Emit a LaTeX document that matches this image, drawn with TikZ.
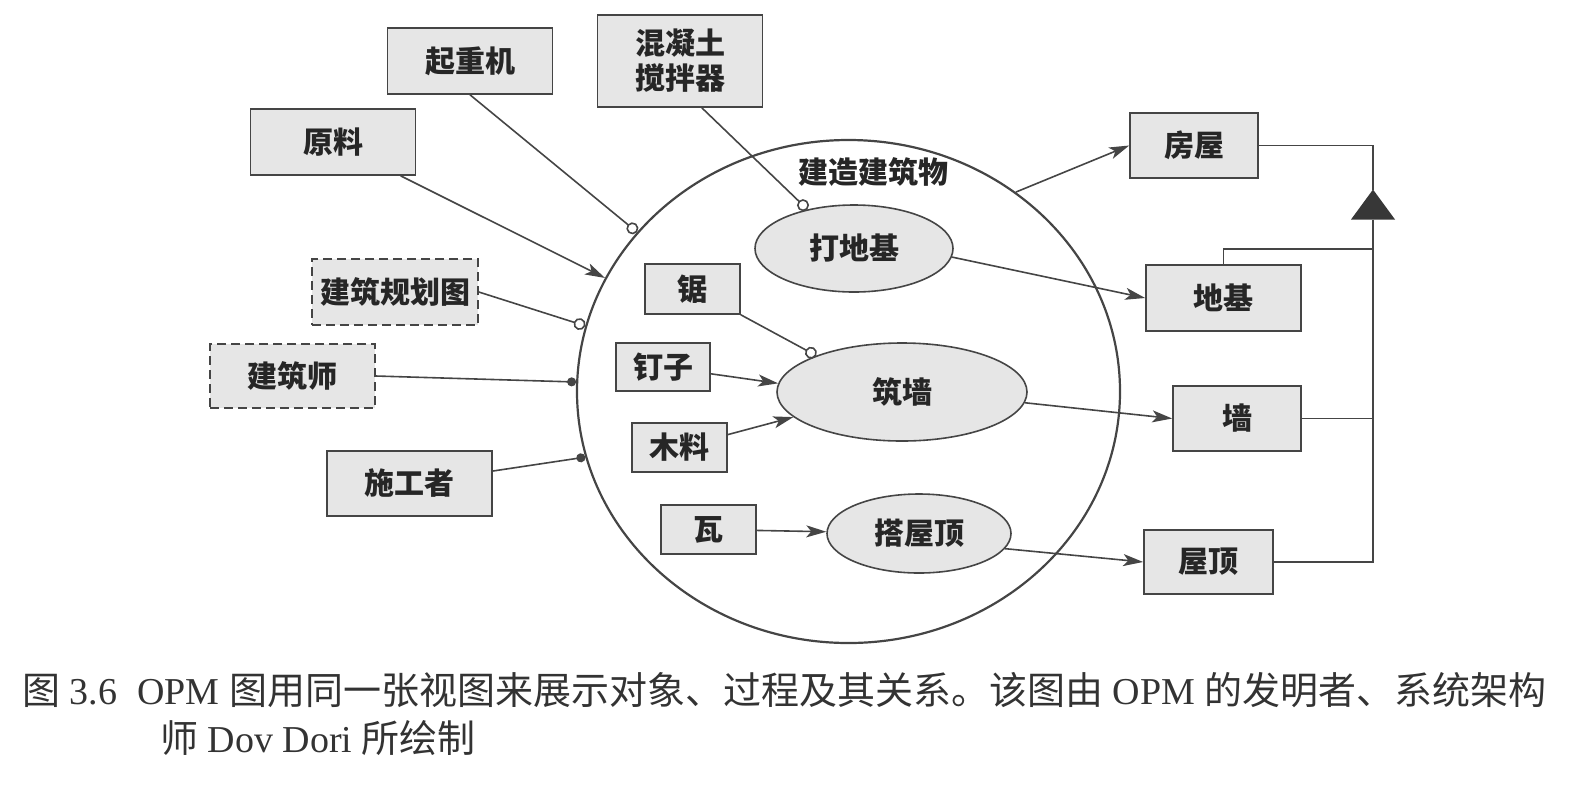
\documentclass[tikz,border=0pt]{standalone}
\usepackage{fontspec}
\setmainfont{Liberation Serif}
\newfontfamily\zh{Noto Sans CJK SC}
\usetikzlibrary{shapes.geometric,arrows.meta}
\definecolor{boxgrey}{HTML}{E6E6E6}
\definecolor{inkgrey}{HTML}{454545}

\begin{document}
\begin{tikzpicture}[x=1pt,y=-1pt]
                      \tikzstyle{every node}+=[inner sep=0pt]
                      \tikzstyle{thing}=[draw=inkgrey,fill=boxgrey,line width=1.6pt,text=black!85,font=\zh\bfseries\fontsize{30}{35}\selectfont]
                      \tikzstyle{envthing}=[thing,dash pattern=on 9pt off 5pt]
                      \tikzstyle{proc}=[thing,ellipse]
                      \tikzstyle{link}=[draw=inkgrey,line width=1.6pt]
                      \tikzstyle{yield}=[link,-{Stealth[length=20pt,width=12pt,inset=5pt]}]
                      \tikzstyle{instr}=[link,-{Circle[length=12pt,fill=white]}]
                      \tikzstyle{agent}=[link,-{Circle[length=9pt]}]
                      \useasboundingbox (0,0) rectangle (1584,788);
                      \node [ellipse,draw=inkgrey,line width=2.2pt,minimum width=543pt,minimum height=503pt] (build) at (848.5,391.5) {};
                      \node [text=black!85,font=\zh\bfseries\fontsize{30}{35}\selectfont] (buildname) at (873,172) {建造建筑物};
                      \node [thing,minimum width=165pt,minimum height=66pt] (crane) at (470,61) {起重机};
                      \node [thing,minimum width=165pt,minimum height=92pt,align=center] (mixer) at (680,61) {混凝土\\搅拌器};
                      \node [thing,minimum width=165pt,minimum height=66pt] (raw) at (333,142) {原料};
                      \node [envthing,minimum width=166pt,minimum height=66pt] (plan) at (395,292) {建筑规划图};
                      \node [envthing,minimum width=165pt,minimum height=64pt] (arch) at (292.5,376) {建筑师};
                      \node [thing,minimum width=165pt,minimum height=65pt] (worker) at (409.5,483.5) {施工者};
                      \node [thing,minimum width=95pt,minimum height=50pt] (saw) at (692.5,289) {锯};
                      \node [thing,minimum width=94pt,minimum height=48pt] (nails) at (663,367) {钉子};
                      \node [thing,minimum width=95pt,minimum height=49pt] (wood) at (679.5,447.5) {木料};
                      \node [thing,minimum width=95pt,minimum height=49pt] (tile) at (708.5,529.5) {瓦};
                      \node [proc,minimum width=198pt,minimum height=87pt] (dig) at (854,248.5) {打地基};
                      \node [proc,minimum width=250pt,minimum height=98pt] (wall) at (902,392) {筑墙};
                      \node [proc,minimum width=184pt,minimum height=79pt] (roof) at (919,533.5) {搭屋顶};
                      \node [thing,minimum width=128pt,minimum height=65pt] (house) at (1194,145.5) {房屋};
                      \node [thing,minimum width=155pt,minimum height=66pt] (found) at (1223.5,298) {地基};
                      \node [thing,minimum width=128pt,minimum height=65pt] (wallobj) at (1237,418.5) {墙};
                      \node [thing,minimum width=129pt,minimum height=64pt] (roofobj) at (1208.5,562) {屋顶};
                      \coordinate (aggtop) at (1373,189.5);
                      \coordinate (aggbase) at (1373,219.5);
                      \fill [inkgrey!80!black] (aggtop) -- (1351,219.5) -- (1395,219.5) -- cycle;
                      \draw [instr] (crane.south) -- (build.143);
                      \draw [yield] (raw) -- (build.155);
                      \draw [instr] (mixer.-65) -- (dig.140);
                      \draw [instr] (plan.east) -- (build.166);
                      \draw [agent] (arch.east) -- (build.178);
                      \draw [agent] (worker) -- (build.194);
                      \draw [instr] (saw.south east) -- (wall.157);
                      \draw [yield] (nails) -- (wall.176);
                      \draw [yield] (wood) -- (wall.193);
                      \draw [yield] (tile) -- (roof);
                      \draw [yield] (build.50) -- (house.west);
                      \draw [yield] (dig.-5) -- (found.west);
                      \draw [yield] (wall.-5) -- (wallobj.west);
                      \draw [yield] (roof.-10) -- (roofobj.west);
                      \draw [link] (house.east) -| (aggtop);
                      \draw [link] (aggbase) |- (roofobj.east);
                      \draw [link] (wallobj.east) -- (wallobj.east -| aggbase);
                      \draw [link] (found.north) -- ++(0,-15) -| (aggbase);
                      \node [anchor=west,text=black!80,font=\fontsize{38}{45}\selectfont] (capa) at (22,690) {{\zh 图} 3.6\hspace{20pt}OPM {\zh 图用同一张视图来展示对象、过程及其关系。该图由} OPM {\zh 的发明者、系统架构}};
                      \node [anchor=west,text=black!80,font=\fontsize{38}{45}\selectfont] (capb) at (160,738) {{\zh 师} Dov Dori {\zh 所绘制}};
                  \end{tikzpicture}
\end{document}
